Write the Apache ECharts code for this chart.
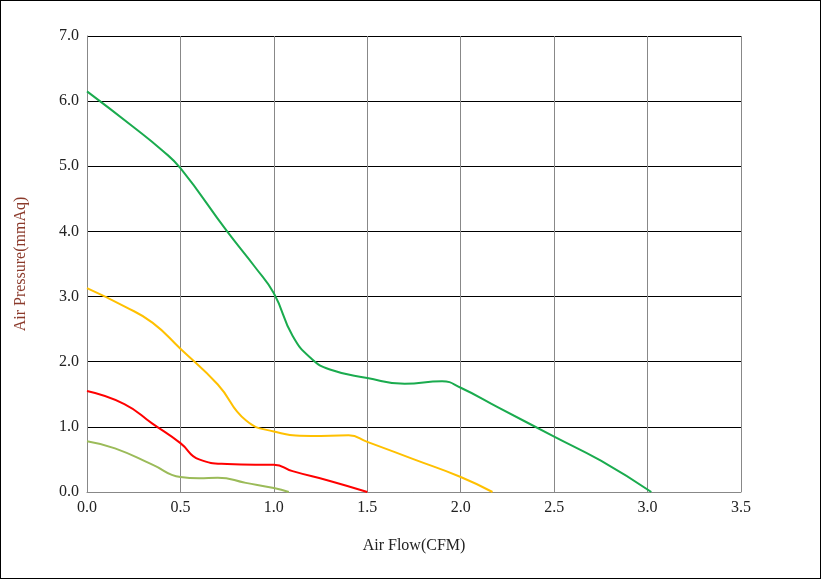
<!DOCTYPE html>
<html><head><meta charset="utf-8">
<script src="https://cdn.jsdelivr.net/npm/echarts@6/dist/echarts.min.js"></script>
<style>html,body{margin:0;padding:0;background:#fff}#c{width:819px;height:577px;border:1px solid #000}</style>
</head><body><div id="c"></div>
<script>
const green=[[0,6.15],[0.25,5.6],[0.4,5.25],[0.5,4.97],[0.75,4.0],[0.9,3.45],[1.0,3.05],[1.1,2.4],[1.2,2.05],[1.3,1.88],[1.5,1.75],[1.7,1.66],[1.9,1.7],[2.0,1.6],[2.2,1.3],[2.5,0.85],[2.75,0.48],[3.02,0.0]];
const yellow=[[0,3.13],[0.2,2.85],[0.35,2.6],[0.5,2.2],[0.7,1.65],[0.85,1.1],[1.0,0.93],[1.2,0.86],[1.4,0.87],[1.5,0.77],[1.75,0.5],[2.0,0.23],[2.17,0]];
const red=[[0,1.55],[0.2,1.35],[0.35,1.05],[0.5,0.75],[0.6,0.5],[0.75,0.43],[0.9,0.42],[1.0,0.42],[1.1,0.32],[1.3,0.17],[1.5,0]];
const olive=[[0,0.78],[0.15,0.67],[0.35,0.42],[0.5,0.23],[0.6,0.21],[0.7,0.22],[0.85,0.14],[1.0,0.06],[1.08,0]];
const ch=echarts.init(document.getElementById('c'));
const f='"Liberation Serif", serif';
const mk=(d,c)=>({type:'line',data:d,smooth:0.5,showSymbol:false,lineStyle:{color:c,width:2},itemStyle:{color:c}});
ch.setOption({animation:false,
grid:{left:86,top:35,right:79,bottom:86},
xAxis:{type:'value',min:0,max:3.5,interval:0.5,name:'Air Flow(CFM)',nameLocation:'middle',nameGap:46,
 nameTextStyle:{fontFamily:f,fontSize:16,color:'#222'},
 axisLabel:{fontFamily:f,fontSize:16,color:'#222',formatter:v=>v.toFixed(1)},
 axisLine:{lineStyle:{color:'#888'}},axisTick:{show:false},splitLine:{lineStyle:{color:'#888'}}},
yAxis:{type:'value',min:0,max:7,interval:1,name:'Air Pressure(mmAq)',nameLocation:'middle',nameGap:58,
 nameTextStyle:{fontFamily:f,fontSize:16,color:'#8b3a2b'},
 axisLabel:{fontFamily:f,fontSize:16,color:'#222',formatter:v=>v.toFixed(1)},
 axisLine:{show:true,lineStyle:{color:'#888'}},axisTick:{show:false},splitLine:{lineStyle:{color:'#000'}}},
series:[mk(green,'#1aab4e'),mk(yellow,'#ffc000'),mk(red,'#ff0000'),mk(olive,'#9bbb59')]});
</script></body></html>
